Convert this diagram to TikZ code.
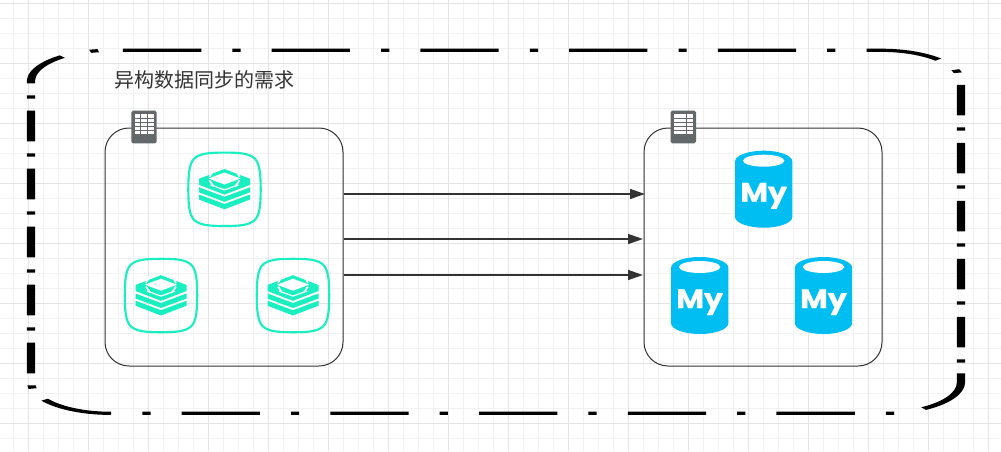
\documentclass[tikz,border=0pt]{standalone}
\usepackage{fontspec}
\newfontfamily\cjk{Noto Sans CJK SC}
\newfontfamily\myfont[BoldFeatures={FakeBold=0.8}]{Poppins}
\usetikzlibrary{arrows.meta}
\definecolor{gridminor}{HTML}{F2F2F2}
\definecolor{gridmajor}{HTML}{E4E4E4}
\definecolor{ink}{HTML}{333333}
\definecolor{servergrey}{HTML}{63686A}
\definecolor{redisgreen}{HTML}{19EFC0}
\definecolor{mysqlblue}{HTML}{00BEF2}
\tikzset{
  x=0.75pt,y=-0.75pt,
  gridminorline/.style={gridminor,line width=0.75pt},
  gridmajorline/.style={gridmajor,line width=0.75pt},
  group box/.style={draw=ink,line width=0.75pt,rounded corners=18pt,minimum width=178.5pt,minimum height=178.5pt,inner sep=0pt},
  flow/.style={draw=ink,line width=0.8pt,-{Triangle[length=11pt,width=7.5pt]}},
  outer solid/.style={black,line width=2.4pt,rounded corners=23.25pt},
  outer a/.style={outer solid,dash pattern=on 22.9pt off 9.1pt on 2.4pt off 9.1pt},
  outer b/.style={outer solid,dash pattern=on 2.4pt off 9.1pt on 22.9pt off 9.1pt},
  title text/.style={font=\cjk\fontsize{15pt}{18pt}\selectfont,text=ink,inner sep=0pt},
  my text/.style={font=\myfont\bfseries\fontsize{20pt}{24pt}\selectfont,text=white,inner sep=0pt,anchor=base,xscale=1.13},
  server/.pic={
    \fill[servergrey,rounded corners=1.2pt] (-12.7,-16.3) rectangle (12.7,16.3);
    \foreach \a/\b in {-12.6/-9.3,-8/-5.3,-3.6/-1,0.3/2.7,4.3/7}
      \foreach \c/\d in {-9.5/-3.8,-2.9/2.8,3.9/9.6}
        \fill[white] (\c,\a) rectangle (\d,\b);
  },
  redis/.pic={
    \draw[redisgreen,line width=1.6pt]
      (0,-36.7) .. controls (14,-36.7) and (24,-36.2) .. (30,-31)
      .. controls (35.5,-26) and (36.2,-14) .. (36.2,0)
      .. controls (36.2,14) and (35.5,26) .. (30,31)
      .. controls (24,36.2) and (14,36.7) .. (0,36.7)
      .. controls (-14,36.7) and (-24,36.2) .. (-30,31)
      .. controls (-35.5,26) and (-36.2,14) .. (-36.2,0)
      .. controls (-36.2,-14) and (-35.5,-26) .. (-30,-31)
      .. controls (-24,-36.2) and (-14,-36.7) .. (0,-36.7) -- cycle;
    \fill[redisgreen] (-25.5,5.2) -- (0,14.7) -- (25.5,5.2) -- (25.5,10.2) -- (0,20) -- (-25.5,10.2) -- cycle;
    \fill[redisgreen] (-25.5,-2) -- (0,7.5) -- (25.5,-2) -- (25.5,3) -- (0,12.5) -- (-25.5,3) -- cycle;
    \fill[redisgreen] (-25.5,-10.5) -- (0,-20.3) -- (25.5,-10.5) -- (25.5,-4.5) -- (0,5.3) -- (-25.5,-4.5) -- cycle;
    \fill[white] (-16,-10.8) -- (0,-16.8) -- (16,-10.8) -- (0,-4.8) -- cycle;
    \draw[white,line width=0.9pt] (-14,-4.5) -- (0,0.6) -- (14,-4.5);
    \draw[white,line width=1.2pt] (-11,-19.5) -- (-15,-12.5) (11,-19.5) -- (15,-12.5) (-15,-9) -- (-11,-3) (15,-9) -- (11,-3);
  },
  mysqldb/.pic={
    \fill[mysqlblue] (-28.7,-27.5) .. controls (-28.7,-33.7) and (-15.8,-38.5) .. (0,-38.5)
      .. controls (15.8,-38.5) and (28.7,-33.7) .. (28.7,-27.5)
      -- (28.7,27.5) .. controls (28.7,33.7) and (15.8,38.5) .. (0,38.5)
      .. controls (-15.8,38.5) and (-28.7,33.7) .. (-28.7,27.5) -- cycle;
    \fill[white] (0,-28.5) ellipse [x radius=15.5pt,y radius=4.5pt];
  },
}
\begin{document}
\begin{tikzpicture}
\useasboundingbox (0,0) rectangle (1001,451);
\fill[white] (0,0) rectangle (1001,451);
% grid
\foreach \v in {13,43,58,73,103,118,133,163,178,193,223,238,253,283,298,313,343,358,373,403,418,433,463,478,493,523,538,553,583,598,613,643,658,673,703,718,733,763,778,793,823,838,853,883,898,913,943,958,973}
  \draw[gridminorline] (\v,0) -- (\v,451);
\foreach \v in {18,33,48,78,93,108,138,153,168,198,213,228,258,273,288,318,333,348,378,393,408,438}
  \draw[gridminorline] (0,\v) -- (1001,\v);
\foreach \v in {28,88,148,208,268,328,388,448,508,568,628,688,748,808,868,928,988}
  \draw[gridmajorline] (\v,0) -- (\v,451);
\foreach \v in {3,63,123,183,243,303,363,423}
  \draw[gridmajorline] (0,\v) -- (1001,\v);
% stretched outer frame
\begin{scope}[transform canvas={xscale=2.564}]
  \draw[outer a] (47.97,50.3) -- (374.8,50.3) -- (374.8,365);
  \draw[black,line width=2.4pt] (374.8,373.3) -- (374.8,382.3) arc[start angle=0,end angle=-58,radius=23.25pt];
  \draw[outer b] (348.7,413.3) -- (12.09,413.3) -- (12.09,50.3) -- (41,50.3);
\end{scope}
% title
\node[title text,anchor=west] (title) at (114.5,80) {异构数据同步的需求};
% groups
\node[group box] (lbox) at (224,247) {};
\node[group box] (rbox) at (763,247) {};
\pic at (144,127) {server};
\pic at (683.3,127) {server};
% redis
\pic at (224.5,189.3) {redis};
\pic at (161,295.5) {redis};
\pic at (293,295.5) {redis};
% mysql
\pic at (763.7,189.2) {mysqldb};
\pic at (699.7,295.5) {mysqldb};
\pic at (823.5,295.5) {mysqldb};
\node[my text] (my1) at (763.7,201.7) {My};
\node[my text] (my2) at (699.7,308) {My};
\node[my text] (my3) at (823.5,308) {My};
% arrows
\draw[flow,shorten >=-1pt] (lbox.east |- 0,194) -- (rbox.west |- 0,194);
\draw[flow,shorten >=0.5pt] (lbox.east |- 0,239) -- (rbox.west |- 0,239);
\draw[flow,shorten >=0.5pt] (lbox.east |- 0,275) -- (rbox.west |- 0,275);
\end{tikzpicture}
\end{document}
